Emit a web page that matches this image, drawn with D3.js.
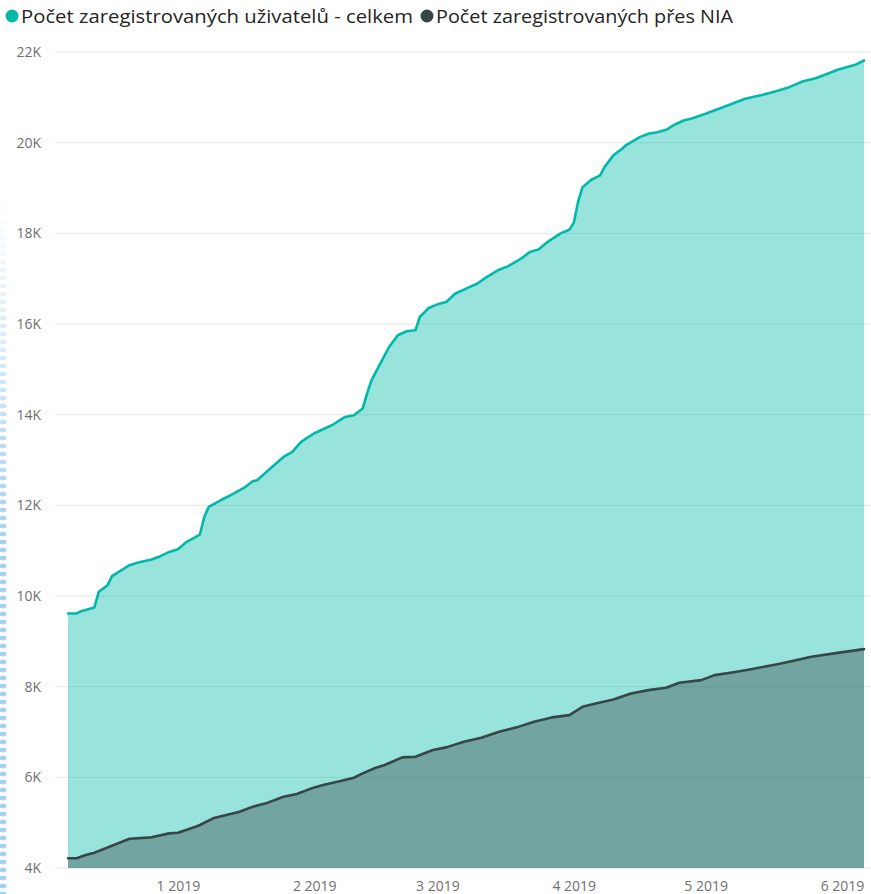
<!DOCTYPE html>
<html>
<head>
<meta charset="utf-8">
<script src="https://cdn.jsdelivr.net/npm/d3@7"></script>
<style>
  body { margin: 0; background: #fff; }
  text { font-family: "Segoe UI", "Open Sans", sans-serif; }
</style>
</head>
<body>
<div id="chart"></div>
<script>
// series data (daily registrations, cumulative)

var seriesNames = ["Počet zaregistrovaných uživatelů - celkem", "Počet zaregistrovaných přes NIA"];
var seriesColors = ["#01B8AA", "#374649"];

var totalDates = ["2018-12-07","2018-12-09","2018-12-10","2018-12-13","2018-12-14","2018-12-16","2018-12-17",
  "2018-12-21","2018-12-23","2018-12-26","2018-12-28","2018-12-30","2019-01-01","2019-01-03","2019-01-06",
  "2019-01-07","2019-01-08","2019-01-11","2019-01-13","2019-01-16","2019-01-18","2019-01-19","2019-01-22",
  "2019-01-25","2019-01-27","2019-01-29","2019-02-01","2019-02-05","2019-02-08","2019-02-10","2019-02-12",
  "2019-02-13","2019-02-14","2019-02-16","2019-02-18","2019-02-20","2019-02-22","2019-02-24","2019-02-25",
  "2019-02-27","2019-03-01","2019-03-03","2019-03-05","2019-03-08","2019-03-10","2019-03-12","2019-03-15",
  "2019-03-17","2019-03-20","2019-03-22","2019-03-24","2019-03-26","2019-03-29","2019-03-31","2019-04-01",
  "2019-04-02","2019-04-03","2019-04-05","2019-04-07","2019-04-08","2019-04-10","2019-04-12","2019-04-13",
  "2019-04-16","2019-04-18","2019-04-20","2019-04-22","2019-04-24","2019-04-26","2019-04-28","2019-05-01",
  "2019-05-04","2019-05-07","2019-05-10","2019-05-14","2019-05-17","2019-05-20","2019-05-23","2019-05-26",
  "2019-05-29","2019-05-31","2019-06-02","2019-06-04","2019-06-06"];
var totalValues = [9615,9615,9666,9747,10091,10239,10437,
  10680,10739,10806,10878,10973,11033,11194,11356,
  11745,11965,12128,12223,12384,12532,12554,12811,
  13067,13178,13398,13590,13766,13950,13987,14135,
  14465,14758,15126,15493,15751,15839,15861,16154,
  16352,16434,16484,16668,16801,16889,17022,17198,
  17271,17440,17587,17646,17807,18000,18080,18230,
  18700,19019,19182,19277,19461,19719,19866,19954,
  20122,20196,20231,20284,20401,20489,20540,20637,
  20747,20857,20967,21056,21135,21224,21349,21422,
  21532,21607,21664,21717,21812];

var niaDates = ["2018-12-07","2018-12-09","2018-12-11","2018-12-13","2018-12-15","2018-12-18","2018-12-21",
  "2018-12-26","2018-12-30","2019-01-01","2019-01-05","2019-01-06","2019-01-09","2019-01-12","2019-01-15",
  "2019-01-18","2019-01-21","2019-01-25","2019-01-28","2019-02-01","2019-02-03","2019-02-07","2019-02-10",
  "2019-02-12","2019-02-15","2019-02-17","2019-02-21","2019-02-24","2019-02-28","2019-03-03","2019-03-07",
  "2019-03-11","2019-03-15","2019-03-19","2019-03-23","2019-03-27","2019-03-31","2019-04-03","2019-04-06",
  "2019-04-10","2019-04-14","2019-04-18","2019-04-22","2019-04-25","2019-04-30","2019-05-03","2019-05-07",
  "2019-05-11","2019-05-17","2019-05-21","2019-05-25","2019-05-31","2019-06-06"];
var niaValues = [4214,4214,4287,4338,4412,4529,4646,
  4676,4764,4779,4911,4948,5095,5168,5242,
  5352,5426,5572,5631,5778,5830,5918,5991,
  6088,6212,6271,6440,6454,6601,6661,6784,
  6873,7005,7102,7225,7322,7373,7556,7631,
  7719,7851,7924,7975,8085,8145,8255,8314,
  8380,8491,8570,8658,8746,8828];

var yTicks = [4000, 6000, 8000, 10000, 12000, 14000, 16000, 18000, 20000, 22000];
var xTickDates = ["2019-01-01","2019-02-01","2019-03-01","2019-04-01","2019-05-01","2019-06-01"];
var xTickLabels = ["1 2019", "2 2019", "3 2019", "4 2019", "5 2019", "6 2019"];

//Set up chart

var svgWidth = 871;
var svgHeight = 894;

var margin = {
  top: 52,
  right: 7,
  bottom: 26,
  left: 68
};

var width = svgWidth - margin.left - margin.right;
var height = svgHeight - margin.top - margin.bottom;

var parseDate = d3.timeParse("%Y-%m-%d");

var totalData = totalDates.map((d, i) => ({date: parseDate(d), value: totalValues[i]}));
var niaData = niaDates.map((d, i) => ({date: parseDate(d), value: niaValues[i]}));

var svg = d3.select("#chart")
  .append("svg")
  .attr("width", svgWidth)
  .attr("height", svgHeight);

// dotted selection border down the left edge
var dots = d3.range(206, svgHeight + 4, 8);
svg.append("g")
  .selectAll("ellipse")
  .data(dots)
  .enter()
  .append("ellipse")
  .attr("cx", 3)
  .attr("cy", d => d)
  .attr("rx", 3.5)
  .attr("ry", 2.3)
  .attr("fill", "#9fcdee")
  .attr("opacity", d => Math.min(0.95, Math.max(0.05, (d - 200) / 360)));

var chartGroup = svg.append("g")
  .attr("transform", `translate(${margin.left}, ${margin.top})`);

var xScale = d3.scaleTime()
  .domain([parseDate("2018-12-07"), parseDate("2019-06-06")])
  .range([0, width]);

var yScale = d3.scaleLinear()
  .domain([4000, 22000])
  .range([height, 0]);

// gridlines
chartGroup.append("g")
  .selectAll("line")
  .data(yTicks)
  .enter()
  .append("line")
  .attr("x1", -13)
  .attr("x2", width + margin.right)
  .attr("y1", d => yScale(d))
  .attr("y2", d => yScale(d))
  .attr("stroke", "#e6e6e6")
  .attr("stroke-width", 1);

// y axis labels
var leftAxis = d3.axisLeft(yScale)
  .tickValues(yTicks)
  .tickSize(0)
  .tickPadding(27)
  .tickFormat(d => (d / 1000) + "K");

var yAxis = chartGroup.append("g").call(leftAxis);
yAxis.select(".domain").remove();
yAxis.selectAll("text")
  .attr("fill", "#6f6f6f")
  .style("font-size", "14px");

// x axis labels
var bottomAxis = d3.axisBottom(xScale)
  .tickValues(xTickDates.map(parseDate))
  .tickSize(0)
  .tickFormat((d, i) => xTickLabels[i]);

var xAxis = chartGroup.append("g")
  .attr("transform", `translate(0, ${height})`)
  .call(bottomAxis);
xAxis.select(".domain").remove();
xAxis.selectAll("text")
  .attr("y", 23)
  .attr("dy", null)
  .attr("fill", "#6f6f6f")
  .style("font-size", "14px");

// areas and lines
var area = d3.area()
  .x(d => xScale(d.date))
  .y0(height)
  .y1(d => yScale(d.value));

var line = d3.line()
  .x(d => xScale(d.date))
  .y(d => yScale(d.value));

chartGroup.append("path")
  .datum(totalData)
  .attr("d", area)
  .attr("fill", seriesColors[0])
  .attr("fill-opacity", 0.4);

chartGroup.append("path")
  .datum(niaData)
  .attr("d", area)
  .attr("fill", seriesColors[1])
  .attr("fill-opacity", 0.4);

chartGroup.append("path")
  .datum(totalData)
  .attr("d", line)
  .attr("fill", "none")
  .attr("stroke", seriesColors[0])
  .attr("stroke-width", 2.6)
  .attr("stroke-linejoin", "round")
  .attr("stroke-linecap", "round");

chartGroup.append("path")
  .datum(niaData)
  .attr("d", line)
  .attr("fill", "none")
  .attr("stroke", seriesColors[1])
  .attr("stroke-width", 2.6)
  .attr("stroke-linejoin", "round")
  .attr("stroke-linecap", "round");

// legend
var legendPos = [{cx: 12, tx: 21, w: 392}, {cx: 427, tx: 436, w: 297}];

var legend = svg.append("g");
legend.selectAll("circle")
  .data(seriesNames)
  .enter()
  .append("circle")
  .attr("cx", (d, i) => legendPos[i].cx)
  .attr("cy", 16)
  .attr("r", 6.5)
  .attr("fill", (d, i) => seriesColors[i]);

legend.selectAll("text")
  .data(seriesNames)
  .enter()
  .append("text")
  .attr("x", (d, i) => legendPos[i].tx)
  .attr("y", 22.5)
  .attr("textLength", (d, i) => legendPos[i].w)
  .attr("lengthAdjust", "spacingAndGlyphs")
  .attr("fill", "#252423")
  .style("font-size", "18px")
  .text(d => d);
</script>
</body>
</html>
